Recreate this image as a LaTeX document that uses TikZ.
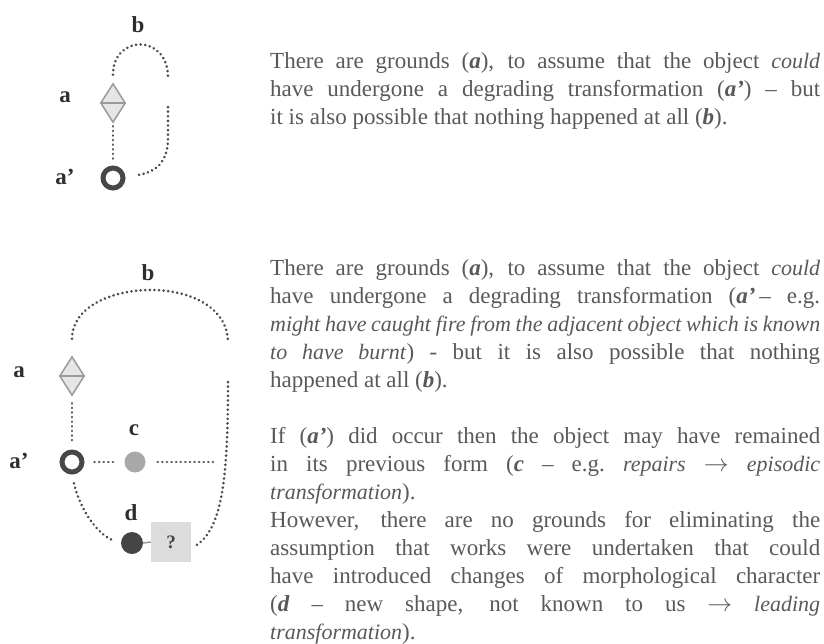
\documentclass[tikz,border=0pt]{standalone}
\usepackage{fontspec}
\setmainfont{Liberation Serif}
\usepackage{xcolor}
\usepackage{tikz}
\usetikzlibrary{positioning, shapes.geometric, calc}
\definecolor{inkgrey}{HTML}{595959}
\definecolor{labelgrey}{HTML}{2E2E2E}
\definecolor{dotgrey}{HTML}{4A4A4A}
\definecolor{ringgrey}{HTML}{474747}
\definecolor{diafill}{HTML}{E6E6E6}
\definecolor{diadraw}{HTML}{9A9A9A}
\definecolor{keptgrey}{HTML}{A8A8A8}
\definecolor{newgrey}{HTML}{454545}
\definecolor{boxgrey}{HTML}{DCDCDC}

\tikzset{
    dotline/.style={draw=dotgrey, line width=2.8pt, line cap=round, dash pattern=on 0.1pt off 4.5pt},
    grounds/.style={diamond, draw=diadraw, fill=diafill, line width=1.5pt, inner sep=0pt,
                    minimum width=25pt, minimum height=39pt},
    degraded/.style={circle, draw=ringgrey, line width=5pt, fill=white, inner sep=0pt, minimum size=20pt},
    kept/.style={circle, fill=keptgrey, inner sep=0pt, minimum size=21pt},
    newform/.style={circle, fill=newgrey, inner sep=0pt, minimum size=22pt},
    unknown/.style={fill=boxgrey, inner sep=0pt, minimum size=40pt, text=newgrey,
                    font=\fontsize{19}{22}\selectfont\bfseries},
    caselabel/.style={text=labelgrey, inner sep=0pt, font=\fontsize{23}{26}\selectfont\bfseries},
    textblock/.style={anchor=north west, text width=550pt, align=justify, inner sep=0pt,
                      text=inkgrey, font=\fontsize{23}{28}\selectfont}
}
\newcommand{\lbl}[1]{\textbf{\textit{#1}}}
\newcommand{\itx}[1]{{\fontsize{22}{28}\selectfont\textit{#1}}}

\begin{document}
\begin{tikzpicture}[x=1pt, y=-1pt]
    \useasboundingbox (0,0) rectangle (824,643);

    % first case
    \node[grounds] (a1) at (113,103) {};
    \draw[diadraw, line width=1.5pt] (a1.west) -- (a1.east);
    \node[degraded] (a1p) at (113,178) {};
    \node[caselabel] (la1) at (65,97) {a};
    \node[caselabel] (la1p) at (65,177) {a’};
    \node[caselabel] (lb1) at (138,25) {b};
    \coordinate (b1up) at (168,77);
    \coordinate (b1dn) at (168,107);
    \coordinate (b1end) at (138,175);
    \draw[dotline, shorten <=3pt, shorten >=3pt] (a1.south) -- (a1p.north);
    \draw[dotline, shorten <=8pt] (a1.north) .. controls (113,34) and (168,34) .. (b1up);
    \draw[dotline] (b1dn) -- (168,138) .. controls (168,162) and (156,172) .. (b1end);

    \node[textblock] (t1) at (270,52) {There are grounds (\lbl{a}), to assume that the object \itx{could}\linebreak
      have undergone a degrading transformation (\lbl{a’}) – but\linebreak
      it is also possible that nothing happened at all (\lbl{b}).};

    % second case
    \node[grounds] (a2) at (72,376) {};
    \draw[diadraw, line width=1.5pt] (a2.west) -- (a2.east);
    \node[degraded] (a2p) at (72,462) {};
    \node[kept] (c2) at (135,462) {};
    \node[newform] (d2) at (132,543) {};
    \node[unknown] (q2) at (171,542) {?};
    \node[caselabel] (la2) at (19,372) {a};
    \node[caselabel] (la2p) at (19,461) {a’};
    \node[caselabel] (lb2) at (148,273) {b};
    \node[caselabel] (lc2) at (134,430) {c};
    \node[caselabel] (ld2) at (131,513) {d};
    \coordinate (b2up) at (228,343);
    \coordinate (b2dn) at (228,382);
    \coordinate (b2end) at (195,546);
    \coordinate (c2end) at (217,462);
    \draw[dotline, shorten <=7pt, shorten >=5pt] (a2.south) -- (a2p.north);
    \draw[dotline, shorten <=17pt] (a2.north) .. controls (72,276) and (228,270) .. (b2up);
    \draw[dotline] (b2dn) .. controls (228,480) and (222,530) .. (b2end);
    \draw[dotline, shorten <=10pt, shorten >=8pt] (a2p.east) -- (c2.west);
    \draw[dotline, shorten <=12pt] (c2.east) -- (c2end);
    \draw[dotline, shorten <=9pt, shorten >=8pt] (a2p.south) .. controls (80,510) and (98,535) .. (d2.west);
    \draw[draw=diadraw, line width=1.5pt] (d2.east) -- (q2.west);

    \node[textblock] (t2) at (270,259) {There are grounds (\lbl{a}), to assume that the object \itx{could}\linebreak
      have undergone a degrading transformation (\lbl{a’}\,– e.g.\linebreak
      \itx{might have caught fire from the adjacent object which is known}\linebreak
      \itx{to have burnt}) - but it is also possible that nothing\linebreak
      happened at all (\lbl{b}).\par\vspace{28pt}
      If (\lbl{a’}) did occur then the object may have remained\linebreak
      in its previous form (\lbl{c} – e.g.\ \itx{repairs} $\rightarrow$ \itx{episodic}\linebreak
      \itx{transformation}).\par
      However, there are no grounds for eliminating the\linebreak
      assumption that works were undertaken that could\linebreak
      have introduced changes of morphological character\linebreak
      (\lbl{d} – new shape, not known to us $\rightarrow$ \itx{leading}\linebreak
      \itx{transformation}).};
\end{tikzpicture}
\end{document}
